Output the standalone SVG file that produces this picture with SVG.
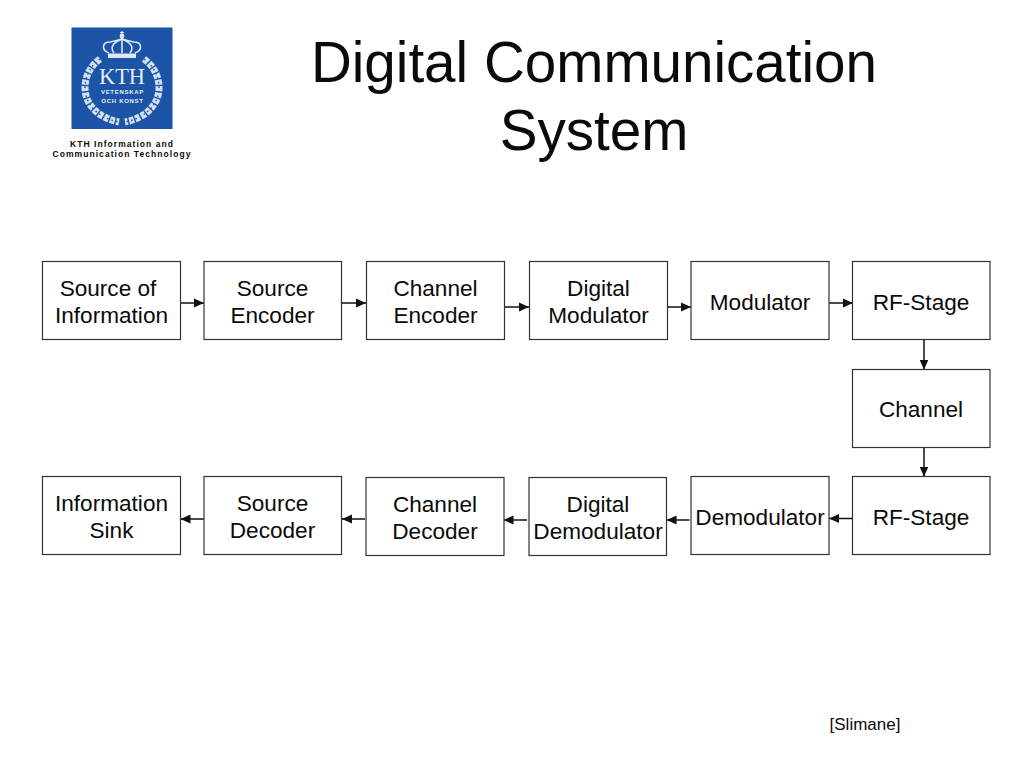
<svg xmlns="http://www.w3.org/2000/svg" width="1024" height="768" viewBox="0 0 1024 768">
<style>
text{font-family:"Liberation Sans",Arial,sans-serif;fill:#0a0a0a;text-anchor:middle}
.b{fill:#fff;stroke:#333;stroke-width:1.2}
.l{font-size:22.6px}
.c{stroke:#111;stroke-width:1.5;fill:none;marker-end:url(#a)}
.w{fill:none;stroke:#d5e1f3;stroke-width:7;stroke-dasharray:5 1.4}
.v{fill:none;stroke:#1c54a8;stroke-width:1.4;stroke-dasharray:1.6 3}
.k{fill:none;stroke:#dfe8f6;stroke-width:1.6}
.m{font-size:6px;font-weight:bold;letter-spacing:.72px;fill:#e6edf8}
.s{font-size:8.500px;font-weight:bold;letter-spacing:1.05px}
</style>
<defs><marker id="a" markerUnits="userSpaceOnUse" markerWidth="11" markerHeight="10" refX="10" refY="5" orient="auto"><path d="M0 0.5L10 5L0 9.5Z" fill="#111"/></marker></defs>
<rect width="1024" height="768" fill="#fff"/>
<g id="logo">
<rect x="71.500" y="27.500" width="101" height="101.500" fill="#1c54a8"/>
<path class="w" d="M100 59C90 66 85 77 85 88C85 104 98 118 119 122"/>
<path class="w" d="M144 59C154 66 159 77 159 88C159 104 146 118 125 122"/>
<path class="v" d="M100 59C90 66 85 77 85 88C85 104 98 118 119 122"/>
<path class="v" d="M144 59C154 66 159 77 159 88C159 104 146 118 125 122"/>
<path class="k" d="M109 53C101 50 102 42 110 42C115 41 119 40 122 39C125 40 129 41 134 42C142 42 143 50 135 53"/>
<path class="k" d="M114 53C110 48 112 43 122 39C132 43 134 48 130 53"/>
<path class="k" d="M122 39V53"/>
<path d="M108 53.500H136V58H108Z" fill="#dfe8f6"/>
<circle cx="122" cy="36" r="2.400" fill="#dfe8f6"/>
<path d="M122 31V35M120 32.500H124" stroke="#dfe8f6" stroke-width="1.200"/>
<text x="122" y="84" style="font-family:'Liberation Serif',serif;font-size:22.400px;fill:#e6edf8">KTH</text>
<text class="m" x="122.500" y="94">VETENSKAP</text>
<text class="m" x="122.500" y="102.500">OCH KONST</text>
<text class="s" x="122" y="146.500">KTH Information and</text>
<text class="s" x="122" y="156.500">Communication Technology</text>
</g>
<g id="title"><text x="594" y="82" style="font-size:56.600px">Digital Communication</text><text x="594" y="150" style="font-size:56.600px">System</text></g>
<g id="connectors">
<path class="c" d="M181 303H204"/><path class="c" d="M342 303H366"/><path class="c" d="M505 307H529"/><path class="c" d="M668 307H691"/><path class="c" d="M829 303H853"/>
<path class="c" d="M924 340V369.500"/><path class="c" d="M924 447V476.500"/>
<path class="c" d="M853 518.500H829"/><path class="c" d="M689.500 520H666.500"/><path class="c" d="M527 520H503.500"/><path class="c" d="M365 519H342"/><path class="c" d="M204 519H180.500"/>
</g>
<g id="n1"><rect class="b" x="42.500" y="261.500" width="138" height="78"/><text class="l" x="108" y="296">Source of</text><text class="l" x="111.500" y="323">Information</text></g>
<g id="n2"><rect class="b" x="204" y="261.500" width="137.500" height="78"/><text class="l" x="272.500" y="296">Source</text><text class="l" x="272.500" y="323">Encoder</text></g>
<g id="n3"><rect class="b" x="366.500" y="261.500" width="138" height="78"/><text class="l" x="435.500" y="296">Channel</text><text class="l" x="435.500" y="323">Encoder</text></g>
<g id="n4"><rect class="b" x="529.500" y="261.500" width="138" height="78"/><text class="l" x="598.500" y="296">Digital</text><text class="l" x="598.500" y="323">Modulator</text></g>
<g id="n5"><rect class="b" x="691" y="261.500" width="138" height="78"/><text class="l" x="760" y="309.500">Modulator</text></g>
<g id="n6"><rect class="b" x="852.500" y="261.500" width="137.500" height="78"/><text class="l" x="921" y="309.500">RF-Stage</text></g>
<g id="n7"><rect class="b" x="852.500" y="369.500" width="137.500" height="78"/><text class="l" x="921" y="416.500">Channel</text></g>
<g id="n8"><rect class="b" x="852.500" y="476.500" width="137.500" height="78"/><text class="l" x="921" y="524.500">RF-Stage</text></g>
<g id="n9"><rect class="b" x="691" y="476.500" width="138" height="78"/><text class="l" x="760" y="524.500">Demodulator</text></g>
<g id="n10"><rect class="b" x="529" y="477.500" width="137.500" height="78"/><text class="l" x="598" y="512">Digital</text><text class="l" x="598" y="539">Demodulator</text></g>
<g id="n11"><rect class="b" x="366" y="477.500" width="138" height="78"/><text class="l" x="435" y="512">Channel</text><text class="l" x="435" y="539">Decoder</text></g>
<g id="n12"><rect class="b" x="204" y="476.500" width="137.500" height="78"/><text class="l" x="272.500" y="511">Source</text><text class="l" x="272.500" y="538">Decoder</text></g>
<g id="n13"><rect class="b" x="42.500" y="476.500" width="138" height="78"/><text class="l" x="111.500" y="511">Information</text><text class="l" x="111.500" y="538">Sink</text></g>
<text x="865" y="730" style="font-size:17px">[Slimane]</text>
</svg>
